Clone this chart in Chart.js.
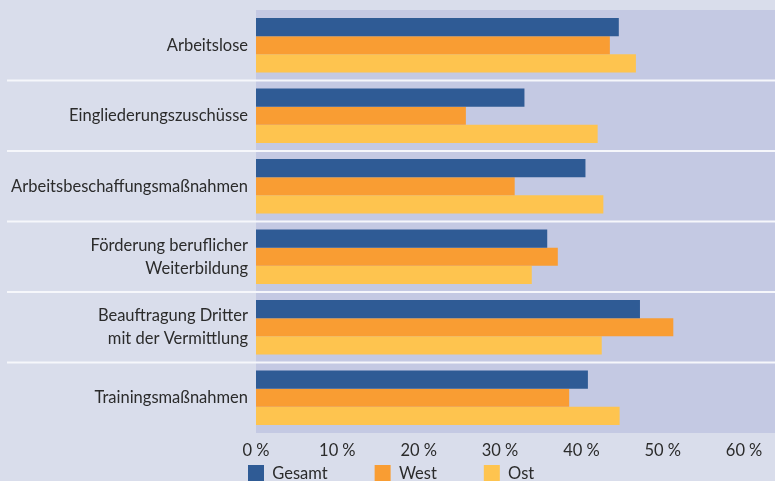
<!DOCTYPE html>
<html>
<head>
<meta charset="utf-8">
<script src="https://cdn.jsdelivr.net/npm/chart.js@4/dist/chart.umd.min.js"></script>
<style>
  html, body { margin: 0; padding: 0; background: #d9ddeb; overflow: hidden; }
  canvas { display: block; }
</style>
</head>
<body>
<canvas id="c" width="775" height="481"></canvas>
<script>
// Anteile je Gruppe (Prozent)
const categories = [
  'Arbeitslose',
  'Eingliederungszuschüsse',
  'Arbeitsbeschaffungsmaßnahmen',
  ['Förderung beruflicher', 'Weiterbildung'],
  ['Beauftragung Dritter', 'mit der Vermittlung'],
  'Trainingsmaßnahmen'
];
const gesamt = [44.6, 33.0, 40.5, 35.8, 47.2, 40.8];
const west   = [43.5, 25.8, 31.8, 37.1, 51.3, 38.5];
const ost    = [46.7, 42.0, 42.7, 33.9, 42.5, 44.7];
const xTicks = [0, 10, 20, 30, 40, 50, 60];

const FONT = 'Lato';
const TEXT = '#2b2b2b';

// Plot background reaching to the right edge, and white separators between groups
const panel = {
  id: 'panel',
  beforeDraw(chart) {
    const { ctx, chartArea: a } = chart;
    ctx.save();
    ctx.fillStyle = '#c4c9e3';
    ctx.fillRect(a.left, a.top, chart.width - a.left, a.bottom - a.top);
    ctx.restore();
  },
  afterDatasetsDraw(chart) {
    const { ctx } = chart;
    const y = chart.scales.y;
    ctx.save();
    ctx.strokeStyle = '#f6f7fb';
    ctx.lineWidth = 2;
    for (let i = 0; i < categories.length - 1; i++) {
      const py = (y.getPixelForValue(i) + y.getPixelForValue(i + 1)) / 2;
      ctx.beginPath();
      ctx.moveTo(7, py);
      ctx.lineTo(chart.width, py);
      ctx.stroke();
    }
    ctx.restore();
  },
  // place the legend row under the axis, starting just left of the plot
  afterLayout(chart) {
    const lg = chart.legend;
    const pad = lg.options.labels.padding;
    lg.left = chart.chartArea.left - 8 - pad;
    lg.right = chart.width;
    lg.top = chart.chartArea.bottom + 32 - pad;
  }
};

new Chart(document.getElementById('c'), {
  type: 'bar',
  data: {
    labels: categories,
    datasets: [
      { label: 'Gesamt', data: gesamt, backgroundColor: '#2f5b95' },
      { label: 'West',   data: west,   backgroundColor: '#f99d33' },
      { label: 'Ost',    data: ost,    backgroundColor: '#fec44f' }
    ]
  },
  options: {
    indexAxis: 'y',
    responsive: false,
    animation: false,
    layout: { padding: { top: 10, left: 0, right: 0, bottom: 0 } },
    datasets: { bar: { categoryPercentage: 0.77, barPercentage: 1.0, borderWidth: 0 } },
    scales: {
      x: {
        min: 0,
        max: 63.8,
        afterBuildTicks(s) { s.ticks = xTicks.map(v => ({ value: v })); },
        afterFit(s) { s.height = 40; },
        grid: { display: false, drawTicks: false },
        border: { display: false },
        ticks: {
          padding: 8,
          color: TEXT,
          font: { family: FONT, size: 16.5 },
          callback: v => v + '\u202F%'
        }
      },
      y: {
        afterFit(s) { s.width = 256; s.paddingTop = 0; s.paddingBottom = 0; },
        grid: { display: false, drawTicks: false },
        border: { display: false },
        ticks: {
          padding: 8,
          color: TEXT,
          font: { family: FONT, size: 16.5, lineHeight: 1.4 }
        }
      }
    },
    plugins: {
      tooltip: { enabled: false },
      legend: {
        position: 'bottom',
        align: 'start',
        maxHeight: 8,
        labels: {
          boxWidth: 16,
          boxHeight: 18,
          padding: 47,
          color: TEXT,
          font: { family: FONT, size: 16.5 }
        }
      }
    }
  },
  plugins: [panel]
});
</script>
</body>
</html>
